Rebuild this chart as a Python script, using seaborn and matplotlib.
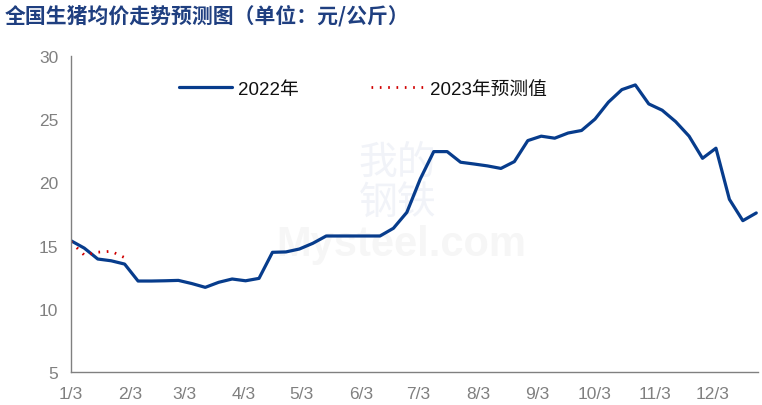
import pandas as pd
import numpy as np
import matplotlib
matplotlib.use("Agg")
import matplotlib.pyplot as plt
import seaborn as sns

# Weekly national average hog price, 2022 (yuan/kg)
dates_2022 = pd.date_range("2022-01-03", periods=52, freq="7D")
price_2022 = [15.39, 14.80, 13.94, 13.80, 13.54, 12.20, 12.20, 12.22, 12.25, 12.00,
              11.70, 12.10, 12.36, 12.22, 12.41, 14.47, 14.50, 14.73, 15.18, 15.76,
              15.76, 15.76, 15.76, 15.76, 16.37, 17.63, 20.27, 22.43, 22.43, 21.59,
              21.45, 21.30, 21.10, 21.64, 23.30, 23.65, 23.49, 23.90, 24.10, 25.00,
              26.34, 27.33, 27.70, 26.20, 25.70, 24.80, 23.65, 21.90, 22.70, 18.66,
              16.97, 17.58]

# 2023 forecast (first five weeks, plotted on the same calendar)
dates_2023 = dates_2022[:5]
price_2023 = [15.30, 14.25, 14.48, 14.55, 14.05]

tick_dates = pd.date_range("2022-01-01", periods=12, freq="MS") + pd.Timedelta(days=2)
tick_labels = [f"{d.month}/3" for d in tick_dates]

df22 = pd.DataFrame({"date": dates_2022, "price": price_2022})
df23 = pd.DataFrame({"date": dates_2023, "price": price_2023})

sns.set_style("white")
plt.rcParams["font.family"] = ["Liberation Sans", "Noto Sans CJK SC", "DejaVu Sans"]

fig = plt.figure(figsize=(7.62, 4.06), dpi=100)
ax = fig.add_axes([0.093, 0.081, 0.902, 0.779])

sns.lineplot(data=df22, x="date", y="price", ax=ax, color="#073C8C",
             linewidth=2.3, label="2022年")
sns.lineplot(data=df23, x="date", y="price", ax=ax, color="#D00000",
             linewidth=2.0, linestyle=(0, (0.6, 2.4)), label="2023年预测值")

ax.set_xlim(pd.Timestamp("2022-01-03"), pd.Timestamp("2022-12-27"))
ax.set_ylim(5, 30)
ax.set_yticks([5, 10, 15, 20, 25, 30])
ax.set_xticks(tick_dates)
ax.set_xticklabels(tick_labels)
ax.set_xlabel("")
ax.set_ylabel("")

for side in ["top", "right"]:
    ax.spines[side].set_visible(False)
for side in ["left", "bottom"]:
    ax.spines[side].set_color("#808080")
    ax.spines[side].set_linewidth(1.0)
ax.tick_params(axis="both", colors="#808080", labelsize=12.5, length=5, width=1,
               direction="out", pad=4)
ax.tick_params(axis="x", pad=5)

leg = ax.legend(loc="center", bbox_to_anchor=(0.425, 0.895), ncol=2, frameon=False,
                fontsize=13.5, handlelength=2.8, columnspacing=3.9, handletextpad=0.3)
for t in leg.get_texts():
    t.set_color("#111111")

# faint watermark
ax.text(0.475, 0.60, "我的\n钢铁", transform=ax.transAxes, ha="center", va="center",
        fontsize=28, color="#F1F3F8", family=["Noto Sans CJK SC"], zorder=0,
        linespacing=1.0)
ax.text(0.48, 0.405, "Mysteel.com", transform=ax.transAxes, ha="center", va="center",
        fontsize=30, fontweight="bold", color="#F6F6F6", zorder=0)

fig.text(0.006, 0.962, "全国生猪均价走势预测图（单位：元/公斤）", ha="left", va="center",
         fontsize=15, fontweight="bold", color="#1F3F80",
         family=["Noto Sans CJK SC", "DejaVu Sans"])

fig.savefig("out.png", dpi=100)
